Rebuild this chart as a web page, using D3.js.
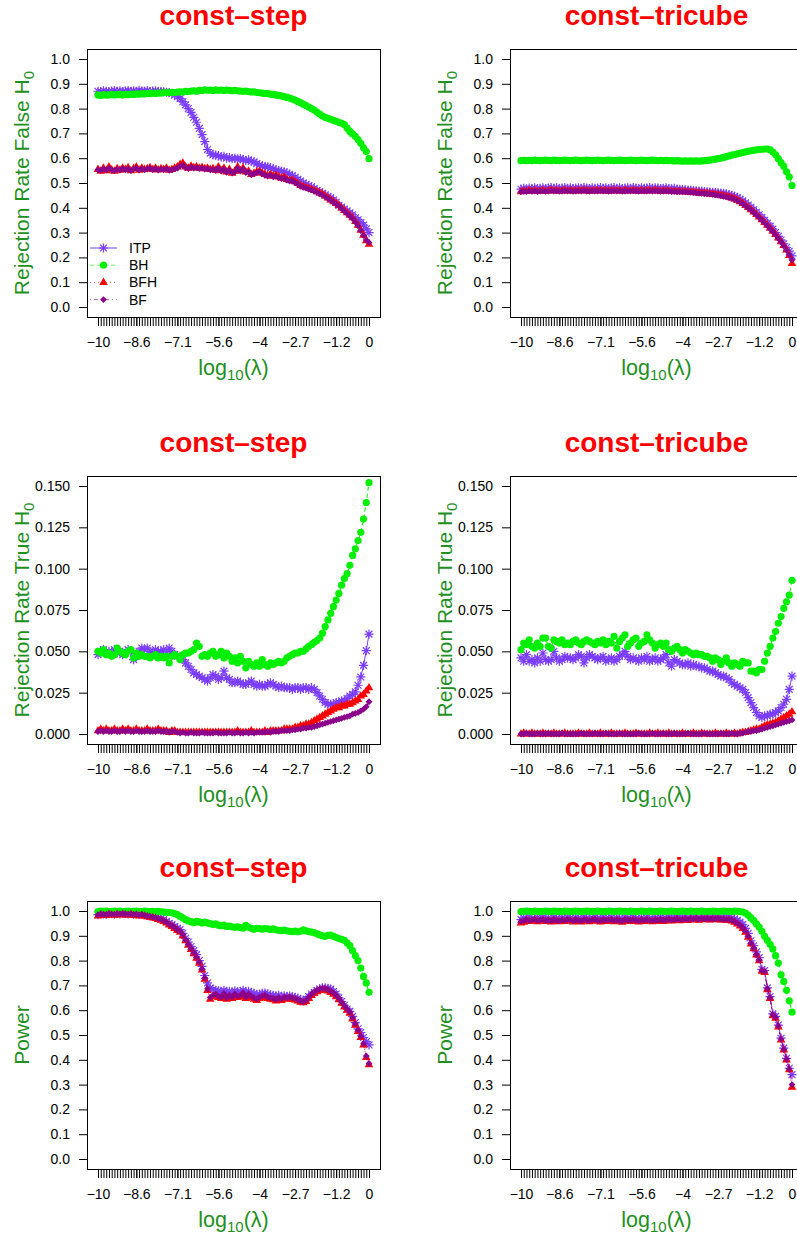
<!DOCTYPE html>
<html>
<head>
<meta charset="utf-8">
<script src="https://cdn.jsdelivr.net/npm/d3@7"></script>
<style>
  body { margin: 0; background: #fff; }
  svg { display: block; font-family: "Liberation Sans", Arial, Helvetica, sans-serif; }
</style>
</head>
<body>
<svg id="chart" width="797" height="1234"></svg>
<script>
// lambda grid: 100 positions, labelled with log10(lambda) at a few of them
const lambdaIdx = d3.range(100);
const xTickIdx = [0, 14, 29, 44, 59, 72, 87, 99];
const xTickLabels = ["\u221210", "\u22128.6", "\u22127.1", "\u22125.6", "\u22124", "\u22122.7", "\u22121.2", "0"];

const methods = ["ITP", "BH", "BFH", "BF"];
const rateTicks = [0, 0.1, 0.2, 0.3, 0.4, 0.5, 0.6, 0.7, 0.8, 0.9, 1.0];
const trueTicks = [0, 0.025, 0.05, 0.075, 0.1, 0.125, 0.15];

// ---- Rejection rate, false H0 ----
const stepFalseITP = [
  0.870,0.868,0.872,0.870,0.869,0.871,0.873,0.870,0.872,0.868,
  0.871,0.873,0.870,0.872,0.869,0.874,0.871,0.870,0.873,0.868,
  0.871,0.872,0.870,0.869,0.868,0.866,0.865,0.860,0.855,0.848,
  0.840,0.828,0.815,0.800,0.785,0.765,0.745,0.720,0.695,0.667,
  0.635,0.620,0.613,0.612,0.610,0.605,0.607,0.600,0.602,0.598,
  0.600,0.596,0.598,0.594,0.590,0.593,0.588,0.585,0.578,0.573,
  0.568,0.566,0.565,0.560,0.557,0.552,0.550,0.547,0.545,0.540,
  0.535,0.530,0.523,0.515,0.508,0.500,0.495,0.490,0.485,0.478,
  0.470,0.465,0.458,0.452,0.446,0.440,0.432,0.422,0.410,0.403,
  0.395,0.388,0.380,0.372,0.360,0.352,0.340,0.330,0.315,0.300];
const stepFalseBH = [
  0.855,0.853,0.856,0.854,0.855,0.857,0.855,0.856,0.858,0.855,
  0.857,0.856,0.858,0.857,0.859,0.858,0.860,0.859,0.861,0.860,
  0.862,0.861,0.863,0.862,0.864,0.865,0.864,0.866,0.865,0.867,
  0.868,0.867,0.870,0.869,0.871,0.872,0.870,0.874,0.873,0.876,
  0.874,0.875,0.873,0.876,0.874,0.875,0.873,0.875,0.874,0.872,
  0.874,0.872,0.871,0.870,0.871,0.869,0.867,0.868,0.865,0.864,
  0.862,0.861,0.860,0.858,0.857,0.855,0.853,0.851,0.848,0.845,
  0.842,0.838,0.834,0.829,0.824,0.818,0.812,0.806,0.800,0.794,
  0.786,0.778,0.770,0.765,0.761,0.757,0.753,0.749,0.745,0.741,
  0.735,0.722,0.708,0.698,0.688,0.675,0.660,0.642,0.627,0.598];
const stepFalseBFH = [
  0.555,0.548,0.560,0.550,0.565,0.553,0.548,0.558,0.552,0.560,
  0.555,0.562,0.550,0.558,0.565,0.552,0.560,0.555,0.558,0.562,
  0.555,0.560,0.553,0.558,0.555,0.560,0.552,0.555,0.560,0.565,
  0.575,0.580,0.565,0.560,0.568,0.562,0.565,0.560,0.563,0.558,
  0.560,0.555,0.558,0.552,0.565,0.550,0.560,0.545,0.555,0.540,
  0.548,0.565,0.550,0.560,0.545,0.548,0.535,0.540,0.545,0.548,
  0.540,0.535,0.530,0.535,0.528,0.532,0.525,0.520,0.525,0.515,
  0.510,0.512,0.505,0.498,0.490,0.485,0.482,0.478,0.475,0.470,
  0.465,0.460,0.455,0.448,0.440,0.432,0.425,0.418,0.410,0.400,
  0.390,0.380,0.370,0.360,0.345,0.330,0.310,0.290,0.268,0.253];
const stepFalseBF = [
  0.553,0.550,0.557,0.552,0.560,0.552,0.550,0.556,0.552,0.558,
  0.553,0.558,0.550,0.556,0.560,0.552,0.558,0.553,0.556,0.560,
  0.553,0.557,0.552,0.556,0.553,0.557,0.551,0.553,0.557,0.560,
  0.568,0.572,0.562,0.558,0.564,0.560,0.562,0.558,0.560,0.556,
  0.557,0.553,0.555,0.550,0.560,0.548,0.556,0.543,0.552,0.540,
  0.545,0.560,0.548,0.556,0.542,0.545,0.533,0.538,0.542,0.545,
  0.537,0.532,0.528,0.532,0.525,0.528,0.522,0.518,0.520,0.512,
  0.508,0.508,0.502,0.495,0.487,0.482,0.479,0.475,0.472,0.467,
  0.462,0.457,0.452,0.445,0.437,0.430,0.422,0.415,0.407,0.397,
  0.387,0.377,0.367,0.356,0.342,0.327,0.308,0.288,0.270,0.260];

const tricubeFalseITP = [
  0.475,0.478,0.476,0.479,0.477,0.480,0.477,0.478,0.480,0.477,
  0.479,0.481,0.478,0.480,0.477,0.479,0.481,0.478,0.480,0.477,
  0.479,0.480,0.478,0.481,0.479,0.477,0.480,0.478,0.479,0.481,
  0.478,0.480,0.477,0.479,0.481,0.478,0.480,0.477,0.479,0.480,
  0.478,0.481,0.479,0.477,0.480,0.478,0.479,0.481,0.478,0.480,
  0.479,0.477,0.478,0.480,0.477,0.476,0.478,0.475,0.474,0.473,
  0.472,0.471,0.470,0.469,0.468,0.467,0.466,0.465,0.464,0.463,
  0.462,0.461,0.460,0.459,0.458,0.456,0.453,0.450,0.446,0.441,
  0.435,0.428,0.420,0.411,0.402,0.392,0.382,0.372,0.361,0.350,
  0.338,0.326,0.314,0.300,0.285,0.270,0.255,0.240,0.225,0.206];
const tricubeFalseBH = [
  0.590,0.591,0.590,0.591,0.590,0.592,0.591,0.590,0.591,0.592,
  0.591,0.590,0.592,0.591,0.590,0.591,0.592,0.591,0.590,0.591,
  0.592,0.591,0.590,0.591,0.592,0.591,0.590,0.591,0.592,0.591,
  0.590,0.591,0.592,0.591,0.590,0.591,0.592,0.591,0.590,0.591,
  0.592,0.591,0.590,0.591,0.592,0.591,0.590,0.591,0.592,0.591,
  0.590,0.591,0.590,0.591,0.590,0.590,0.589,0.590,0.589,0.588,
  0.589,0.588,0.589,0.588,0.589,0.588,0.589,0.590,0.591,0.592,
  0.594,0.596,0.598,0.600,0.603,0.606,0.609,0.612,0.615,0.618,
  0.620,0.623,0.626,0.628,0.630,0.632,0.634,0.635,0.636,0.637,
  0.637,0.634,0.625,0.614,0.598,0.582,0.567,0.545,0.525,0.490];
const tricubeFalseBFH = [
  0.465,0.468,0.466,0.470,0.467,0.469,0.466,0.468,0.470,0.467,
  0.469,0.471,0.468,0.470,0.467,0.469,0.470,0.468,0.470,0.467,
  0.469,0.470,0.468,0.471,0.469,0.467,0.470,0.468,0.469,0.470,
  0.468,0.470,0.467,0.469,0.470,0.468,0.470,0.467,0.469,0.470,
  0.468,0.470,0.469,0.467,0.470,0.468,0.469,0.470,0.468,0.470,
  0.469,0.467,0.468,0.469,0.467,0.466,0.467,0.465,0.466,0.465,
  0.465,0.464,0.463,0.462,0.461,0.460,0.459,0.458,0.457,0.456,
  0.455,0.454,0.452,0.450,0.448,0.446,0.443,0.440,0.436,0.431,
  0.425,0.418,0.410,0.402,0.393,0.383,0.373,0.363,0.352,0.341,
  0.330,0.318,0.306,0.293,0.279,0.264,0.248,0.230,0.208,0.176];
const tricubeFalseBF = [
  0.464,0.466,0.465,0.468,0.466,0.467,0.465,0.467,0.468,0.466,
  0.467,0.469,0.467,0.468,0.466,0.467,0.468,0.467,0.468,0.466,
  0.467,0.468,0.467,0.469,0.467,0.466,0.468,0.467,0.467,0.468,
  0.467,0.468,0.466,0.467,0.468,0.467,0.468,0.466,0.467,0.468,
  0.467,0.468,0.467,0.466,0.468,0.467,0.467,0.468,0.467,0.468,
  0.467,0.466,0.467,0.467,0.466,0.465,0.466,0.464,0.465,0.464,
  0.464,0.463,0.462,0.461,0.460,0.459,0.458,0.457,0.456,0.455,
  0.454,0.452,0.450,0.448,0.446,0.444,0.441,0.438,0.434,0.429,
  0.423,0.416,0.408,0.400,0.391,0.381,0.371,0.361,0.350,0.339,
  0.328,0.316,0.304,0.291,0.277,0.262,0.246,0.229,0.210,0.190];

// ---- Rejection rate, true H0 ----
const stepTrueITP = [
  0.048,0.050,0.051,0.049,0.050,0.048,0.051,0.049,0.050,0.048,
  0.049,0.051,0.050,0.045,0.047,0.050,0.052,0.051,0.052,0.050,
  0.049,0.051,0.050,0.050,0.051,0.049,0.052,0.050,0.048,0.047,
  0.047,0.045,0.043,0.041,0.039,0.037,0.036,0.035,0.034,0.033,
  0.032,0.034,0.036,0.035,0.033,0.034,0.038,0.034,0.033,0.031,
  0.031,0.032,0.031,0.030,0.030,0.031,0.032,0.030,0.029,0.030,
  0.029,0.029,0.030,0.031,0.030,0.029,0.028,0.029,0.028,0.028,
  0.028,0.027,0.028,0.028,0.027,0.028,0.028,0.027,0.028,0.027,
  0.025,0.023,0.021,0.019,0.018,0.018,0.018,0.019,0.019,0.020,
  0.020,0.0215,0.023,0.024,0.0255,0.0295,0.0345,0.0415,0.0504,0.0604];
const stepTrueBH = [
  0.050,0.049,0.051,0.048,0.049,0.047,0.048,0.052,0.050,0.049,
  0.048,0.050,0.051,0.046,0.049,0.047,0.048,0.047,0.047,0.046,
  0.047,0.048,0.046,0.047,0.046,0.047,0.043,0.047,0.048,0.047,
  0.045,0.048,0.049,0.049,0.050,0.051,0.055,0.053,0.047,0.048,
  0.047,0.049,0.050,0.047,0.048,0.050,0.046,0.049,0.047,0.044,
  0.046,0.043,0.047,0.044,0.040,0.044,0.042,0.041,0.043,0.041,
  0.045,0.042,0.041,0.043,0.042,0.043,0.044,0.043,0.044,0.046,
  0.047,0.048,0.049,0.049,0.050,0.050,0.0515,0.053,0.054,0.0555,
  0.0565,0.058,0.061,0.065,0.069,0.073,0.077,0.081,0.085,0.090,
  0.094,0.097,0.102,0.108,0.112,0.117,0.122,0.130,0.140,0.152];
const stepTrueBFH = [
  0.002,0.003,0.002,0.003,0.002,0.002,0.003,0.002,0.002,0.003,
  0.002,0.003,0.002,0.002,0.003,0.002,0.002,0.002,0.003,0.002,
  0.002,0.002,0.003,0.002,0.002,0.002,0.001,0.002,0.002,0.001,
  0.001,0.001,0.001,0.001,0.001,0.001,0.001,0.001,0.001,0.001,
  0.001,0.001,0.001,0.001,0.001,0.001,0.001,0.001,0.001,0.001,
  0.001,0.002,0.001,0.001,0.001,0.001,0.002,0.001,0.001,0.001,
  0.001,0.002,0.001,0.002,0.002,0.002,0.002,0.002,0.003,0.003,
  0.003,0.003,0.004,0.004,0.005,0.005,0.006,0.006,0.007,0.008,
  0.009,0.010,0.011,0.012,0.013,0.014,0.015,0.016,0.016,0.017,
  0.017,0.018,0.018,0.019,0.020,0.021,0.023,0.024,0.026,0.028];
const stepTrueBF = [
  0.0015,0.002,0.0015,0.002,0.0015,0.0015,0.002,0.0015,0.0015,0.002,
  0.0015,0.002,0.0015,0.0015,0.002,0.0015,0.0015,0.0015,0.002,0.0015,
  0.0015,0.0015,0.002,0.0015,0.0015,0.0015,0.001,0.0015,0.0015,0.001,
  0.0005,0.001,0.0005,0.0005,0.001,0.0005,0.0005,0.0005,0.001,0.0005,
  0.0005,0.0005,0.0005,0.001,0.0005,0.0005,0.0005,0.0005,0.001,0.0005,
  0.0005,0.001,0.0005,0.0005,0.001,0.0005,0.001,0.0005,0.001,0.001,
  0.001,0.001,0.0015,0.001,0.0015,0.0015,0.0015,0.002,0.002,0.002,
  0.002,0.0025,0.0025,0.003,0.003,0.0035,0.0035,0.004,0.004,0.0045,
  0.005,0.0055,0.006,0.0065,0.007,0.0075,0.008,0.0085,0.009,0.0095,
  0.010,0.0105,0.011,0.012,0.0125,0.013,0.014,0.015,0.0165,0.0195];

const tricubeTrueITP = [
  0.046,0.044,0.048,0.044,0.045,0.043,0.046,0.044,0.049,0.045,
  0.044,0.045,0.050,0.046,0.044,0.045,0.047,0.046,0.046,0.045,
  0.046,0.048,0.047,0.043,0.046,0.048,0.047,0.046,0.045,0.046,
  0.047,0.044,0.045,0.046,0.044,0.045,0.047,0.048,0.050,0.047,
  0.045,0.046,0.045,0.044,0.046,0.045,0.047,0.044,0.045,0.046,
  0.044,0.045,0.046,0.048,0.043,0.041,0.045,0.044,0.043,0.042,
  0.042,0.043,0.041,0.042,0.041,0.041,0.040,0.040,0.039,0.038,
  0.038,0.037,0.036,0.035,0.035,0.034,0.033,0.031,0.030,0.029,
  0.028,0.027,0.025,0.022,0.019,0.016,0.013,0.011,0.010,0.011,
  0.011,0.012,0.012,0.013,0.014,0.016,0.018,0.021,0.027,0.035];
const tricubeTrueBH = [
  0.051,0.055,0.054,0.057,0.053,0.052,0.055,0.053,0.058,0.058,
  0.053,0.052,0.057,0.056,0.055,0.057,0.054,0.055,0.054,0.056,
  0.057,0.055,0.054,0.056,0.057,0.056,0.055,0.054,0.056,0.055,
  0.057,0.054,0.056,0.055,0.059,0.052,0.056,0.058,0.060,0.053,
  0.055,0.057,0.058,0.053,0.055,0.056,0.060,0.057,0.055,0.052,
  0.054,0.055,0.053,0.055,0.051,0.050,0.052,0.053,0.051,0.049,
  0.051,0.050,0.049,0.048,0.049,0.048,0.048,0.047,0.047,0.046,
  0.044,0.046,0.045,0.042,0.044,0.046,0.043,0.041,0.043,0.042,
  0.041,0.044,0.043,0.043,0.038,0.038,0.037,0.039,0.039,0.044,
  0.049,0.053,0.058,0.062,0.067,0.071,0.076,0.080,0.084,0.093];
const tricubeTrueBFH = [
  0,0.0005,0,0,0.0005,0,0,0,0.0005,0,
  0,0,0.0005,0,0,0,0.0005,0,0,0,
  0,0.0005,0,0,0,0.0005,0,0,0,0.0005,
  0,0,0,0.0005,0,0,0,0,0.0005,0,
  0,0,0.0005,0,0,0,0,0.0005,0,0,
  0.0005,0,0,0,0.0005,0,0,0,0,0.0005,
  0,0,0,0.0005,0,0,0.0005,0,0,0,
  0,0.0005,0,0,0,0.0005,0,0,0.0005,0,
  0.0005,0.001,0.001,0.0015,0.002,0.0025,0.003,0.003,0.004,0.005,
  0.0055,0.006,0.0065,0.007,0.008,0.009,0.010,0.011,0.012,0.0135];
const tricubeTrueBF = [
  0,0,0.0005,0,0,0,0.0005,0,0,0,
  0.0005,0,0,0,0,0.0005,0,0,0,0,
  0,0,0.0005,0,0,0,0,0.0005,0,0,
  0,0.0005,0,0,0,0,0.0005,0,0,0,
  0,0,0,0.0005,0,0,0,0,0.0005,0,
  0,0,0.0005,0,0,0,0.0005,0,0,0,
  0,0.0005,0,0,0,0,0,0.0005,0,0,
  0,0,0,0.0005,0,0,0,0.0005,0,0,
  0.0005,0.0005,0.001,0.0015,0.0015,0.002,0.002,0.0025,0.003,0.0035,
  0.004,0.0045,0.005,0.0055,0.006,0.0065,0.007,0.0075,0.008,0.0085];

// ---- Power ----
const stepPowerITP = [
  0.985,0.990,0.988,0.986,0.990,0.989,0.987,0.990,0.988,0.991,
  0.990,0.988,0.990,0.987,0.989,0.986,0.988,0.985,0.982,0.980,
  0.978,0.975,0.972,0.970,0.965,0.958,0.950,0.945,0.938,0.930,
  0.925,0.910,0.890,0.875,0.857,0.840,0.824,0.800,0.777,0.740,
  0.710,0.690,0.683,0.680,0.678,0.675,0.680,0.672,0.676,0.670,
  0.678,0.672,0.675,0.680,0.672,0.676,0.670,0.668,0.662,0.664,
  0.668,0.669,0.665,0.662,0.660,0.657,0.660,0.655,0.658,0.656,
  0.657,0.655,0.652,0.648,0.642,0.638,0.645,0.655,0.665,0.672,
  0.680,0.685,0.690,0.690,0.688,0.685,0.675,0.665,0.650,0.635,
  0.620,0.605,0.595,0.575,0.550,0.525,0.510,0.490,0.473,0.460];
const stepPowerBH = [
  0.998,1.000,0.999,1.000,0.998,0.999,1.000,0.999,1.000,0.998,
  0.999,1.000,0.998,0.999,1.000,0.999,0.998,1.000,0.999,0.998,
  0.999,0.998,0.999,0.997,0.996,0.995,0.994,0.993,0.990,0.985,
  0.978,0.972,0.965,0.960,0.957,0.953,0.958,0.956,0.952,0.955,
  0.952,0.949,0.946,0.948,0.943,0.941,0.943,0.938,0.939,0.936,
  0.934,0.936,0.933,0.931,0.942,0.934,0.930,0.926,0.930,0.929,
  0.927,0.929,0.928,0.925,0.928,0.924,0.922,0.921,0.923,0.920,
  0.918,0.917,0.919,0.916,0.918,0.924,0.920,0.917,0.915,0.913,
  0.908,0.904,0.900,0.898,0.902,0.903,0.898,0.893,0.889,0.886,
  0.882,0.872,0.860,0.840,0.820,0.800,0.770,0.736,0.710,0.672];
const stepPowerBFH = [
  0.980,0.985,0.983,0.982,0.986,0.984,0.983,0.986,0.984,0.987,
  0.985,0.983,0.986,0.982,0.984,0.980,0.983,0.980,0.977,0.975,
  0.973,0.970,0.966,0.963,0.958,0.952,0.944,0.938,0.930,0.922,
  0.915,0.900,0.880,0.862,0.845,0.828,0.810,0.790,0.762,0.725,
  0.680,0.645,0.655,0.660,0.652,0.648,0.662,0.645,0.655,0.648,
  0.660,0.652,0.655,0.665,0.648,0.660,0.652,0.645,0.640,0.648,
  0.652,0.655,0.648,0.645,0.643,0.638,0.645,0.640,0.647,0.645,
  0.648,0.645,0.642,0.638,0.632,0.630,0.635,0.648,0.660,0.668,
  0.675,0.680,0.683,0.682,0.678,0.672,0.665,0.655,0.643,0.628,
  0.613,0.600,0.588,0.565,0.540,0.515,0.490,0.460,0.410,0.380];
const stepPowerBF = [
  0.984,0.988,0.986,0.985,0.989,0.987,0.986,0.989,0.987,0.990,
  0.988,0.986,0.989,0.985,0.987,0.983,0.986,0.983,0.980,0.978,
  0.976,0.973,0.969,0.966,0.961,0.955,0.947,0.941,0.933,0.925,
  0.918,0.904,0.884,0.866,0.849,0.832,0.814,0.794,0.766,0.730,
  0.686,0.652,0.660,0.665,0.657,0.653,0.667,0.650,0.660,0.653,
  0.665,0.657,0.660,0.670,0.653,0.665,0.657,0.650,0.645,0.653,
  0.657,0.660,0.653,0.650,0.648,0.643,0.650,0.645,0.652,0.650,
  0.653,0.650,0.647,0.643,0.637,0.635,0.640,0.653,0.665,0.673,
  0.680,0.685,0.688,0.687,0.683,0.677,0.670,0.660,0.648,0.633,
  0.618,0.605,0.593,0.570,0.545,0.520,0.495,0.465,0.415,0.385];

const tricubePowerITP = [
  0.965,0.972,0.968,0.975,0.970,0.966,0.973,0.970,0.974,0.968,
  0.971,0.967,0.974,0.970,0.966,0.972,0.969,0.975,0.971,0.967,
  0.973,0.970,0.968,0.974,0.971,0.967,0.972,0.975,0.970,0.968,
  0.973,0.969,0.971,0.974,0.968,0.972,0.970,0.966,0.973,0.971,
  0.969,0.974,0.970,0.967,0.972,0.969,0.973,0.970,0.968,0.972,
  0.970,0.974,0.969,0.972,0.975,0.971,0.973,0.976,0.972,0.974,
  0.976,0.973,0.977,0.975,0.978,0.974,0.977,0.976,0.978,0.975,
  0.977,0.976,0.978,0.975,0.976,0.974,0.975,0.972,0.968,0.962,
  0.955,0.945,0.930,0.910,0.880,0.860,0.835,0.812,0.765,0.760,
  0.690,0.655,0.585,0.575,0.540,0.487,0.447,0.406,0.366,0.340];
const tricubePowerBH = [
  0.998,0.999,1.000,0.999,0.998,1.000,0.999,0.998,0.999,1.000,
  0.999,0.998,1.000,0.999,0.999,0.998,1.000,0.999,0.998,0.999,
  1.000,0.999,0.998,0.999,1.000,0.999,0.999,0.998,1.000,0.999,
  0.998,0.999,1.000,0.999,0.998,0.999,1.000,0.999,0.999,0.998,
  1.000,0.999,0.998,0.999,1.000,0.999,0.998,1.000,0.999,0.998,
  0.999,1.000,0.999,0.998,0.999,1.000,0.999,0.998,0.999,1.000,
  0.999,0.998,1.000,0.999,0.999,0.998,1.000,0.999,0.998,0.999,
  1.000,0.999,0.998,0.999,1.000,0.999,0.999,0.998,1.000,0.999,
  0.998,0.996,0.992,0.983,0.972,0.962,0.948,0.935,0.918,0.898,
  0.882,0.866,0.847,0.820,0.790,0.743,0.716,0.680,0.638,0.592];
const tricubePowerBFH = [
  0.952,0.955,0.962,0.958,0.960,0.963,0.957,0.960,0.962,0.958,
  0.960,0.956,0.962,0.959,0.957,0.961,0.958,0.963,0.960,0.956,
  0.961,0.958,0.956,0.962,0.960,0.957,0.961,0.963,0.959,0.956,
  0.962,0.958,0.960,0.963,0.957,0.961,0.959,0.955,0.962,0.960,
  0.958,0.962,0.959,0.956,0.961,0.958,0.962,0.960,0.957,0.961,
  0.959,0.963,0.958,0.961,0.964,0.960,0.962,0.965,0.961,0.963,
  0.965,0.962,0.966,0.964,0.967,0.963,0.966,0.965,0.967,0.964,
  0.966,0.965,0.967,0.964,0.965,0.962,0.963,0.960,0.955,0.948,
  0.940,0.930,0.915,0.895,0.867,0.848,0.823,0.800,0.757,0.752,
  0.683,0.648,0.578,0.568,0.533,0.480,0.440,0.400,0.360,0.290];
const tricubePowerBF = [
  0.958,0.960,0.965,0.962,0.963,0.966,0.961,0.963,0.965,0.962,
  0.963,0.960,0.965,0.962,0.960,0.964,0.962,0.966,0.963,0.960,
  0.964,0.962,0.960,0.965,0.963,0.961,0.964,0.966,0.962,0.960,
  0.965,0.962,0.963,0.966,0.961,0.964,0.962,0.959,0.965,0.963,
  0.962,0.965,0.962,0.960,0.964,0.962,0.965,0.963,0.961,0.964,
  0.962,0.966,0.962,0.964,0.967,0.963,0.965,0.968,0.964,0.966,
  0.968,0.965,0.969,0.967,0.970,0.966,0.969,0.968,0.970,0.967,
  0.969,0.968,0.970,0.967,0.968,0.965,0.966,0.963,0.958,0.951,
  0.943,0.933,0.918,0.898,0.870,0.851,0.826,0.803,0.760,0.755,
  0.686,0.651,0.581,0.571,0.536,0.483,0.443,0.403,0.363,0.300];

const colors = { ITP: "#7a3cff", BH: "#00ee00", BFH: "#ff0000", BF: "#8b008b" };
const dashes = { ITP: null, BH: "4,3", BFH: "1,3", BF: "1,3,4,3" };
const titleRed = "#ff0000";
const labelGreen = "#1f8f1f";

const panels = [
  { title: "const\u2013step", ylab: "false", row: 0, col: 0, ymax: 1, ticks: rateTicks, fmt: ".1f",
    series: [stepFalseITP, stepFalseBH, stepFalseBFH, stepFalseBF], legend: true },
  { title: "const\u2013tricube", ylab: "false", row: 0, col: 1, ymax: 1, ticks: rateTicks, fmt: ".1f",
    series: [tricubeFalseITP, tricubeFalseBH, tricubeFalseBFH, tricubeFalseBF] },
  { title: "const\u2013step", ylab: "true", row: 1, col: 0, ymax: 0.15, ticks: trueTicks, fmt: ".3f",
    series: [stepTrueITP, stepTrueBH, stepTrueBFH, stepTrueBF] },
  { title: "const\u2013tricube", ylab: "true", row: 1, col: 1, ymax: 0.15, ticks: trueTicks, fmt: ".3f",
    series: [tricubeTrueITP, tricubeTrueBH, tricubeTrueBFH, tricubeTrueBF] },
  { title: "const\u2013step", ylab: "power", row: 2, col: 0, ymax: 1, ticks: rateTicks, fmt: ".1f",
    series: [stepPowerITP, stepPowerBH, stepPowerBFH, stepPowerBF] },
  { title: "const\u2013tricube", ylab: "power", row: 2, col: 1, ymax: 1, ticks: rateTicks, fmt: ".1f",
    series: [tricubePowerITP, tricubePowerBH, tricubePowerBFH, tricubePowerBF] }
];

const svg = d3.select("#chart");
const W = 293, H = 268;
const colLeft = [87, 510];
const rowTop = [49, 476, 901];

function marker(sel, m) {
  if (m === "ITP") {
    sel.append("path")
      .attr("d", "M-4.6,0H4.6M0,-4.6V4.6M-3.4,-3.4L3.4,3.4M-3.4,3.4L3.4,-3.4")
      .attr("stroke", colors.ITP).attr("stroke-width", 1.2).attr("fill", "none");
  } else if (m === "BH") {
    sel.append("circle").attr("r", 3.6).attr("fill", colors.BH);
  } else if (m === "BFH") {
    sel.append("path").attr("d", "M0,-4.8L4.3,2.6L-4.3,2.6Z").attr("fill", colors.BFH);
  } else {
    sel.append("path").attr("d", "M0,-3.4L3.4,0L0,3.4L-3.4,0Z").attr("fill", colors.BF);
  }
}

panels.forEach(p => {
  const g = svg.append("g")
    .attr("transform", `translate(${colLeft[p.col]},${rowTop[p.row]})`);

  const x = d3.scaleLinear().domain([0, 99]).range([11, 282]);
  const y = d3.scaleLinear().domain([0, p.ymax]).range([258, 10]);

  // title
  g.append("text")
    .attr("x", W / 2).attr("y", -24)
    .attr("text-anchor", "middle")
    .attr("font-size", 28).attr("font-weight", "bold")
    .attr("fill", titleRed)
    .text(p.title);

  // y axis
  const yAxis = g.append("g")
    .call(d3.axisLeft(y).tickValues(p.ticks).tickFormat(d3.format(p.fmt)).tickSize(8).tickPadding(9));
  yAxis.select(".domain").remove();
  yAxis.selectAll("text").attr("font-size", 14).attr("fill", "#000")
    .attr("font-family", "'Liberation Sans', Arial, sans-serif");

  // x axis: a tick at every lambda, labels at a few
  const xMinor = g.append("g").attr("transform", `translate(0,${H})`)
    .call(d3.axisBottom(x).tickValues(lambdaIdx).tickFormat("").tickSize(9));
  xMinor.select(".domain").remove();
  const xLab = g.append("g").attr("transform", `translate(0,${H})`)
    .call(d3.axisBottom(x).tickValues(xTickIdx)
      .tickFormat((d, i) => xTickLabels[i]).tickSize(9).tickPadding(11));
  xLab.select(".domain").remove();
  xLab.selectAll("text").attr("font-size", 14).attr("fill", "#000")
    .attr("font-family", "'Liberation Sans', Arial, sans-serif");

  // axis titles
  const xt = g.append("text")
    .attr("x", W / 2).attr("y", H + 58)
    .attr("text-anchor", "middle").attr("font-size", 21.5).attr("fill", labelGreen);
  xt.append("tspan").text("log");
  xt.append("tspan").attr("font-size", 15).attr("dy", 5).text("10");
  xt.append("tspan").attr("dy", -5).text("(\u03bb)");

  const yt = g.append("text")
    .attr("transform", `translate(-58,${H / 2}) rotate(-90)`)
    .attr("text-anchor", "middle").attr("font-size", 21).attr("fill", labelGreen);
  if (p.ylab === "power") {
    yt.text("Power");
  } else {
    yt.append("tspan").text(p.ylab === "false" ? "Rejection Rate False H" : "Rejection Rate True H");
    yt.append("tspan").attr("font-size", 15).attr("dy", 5).text("0");
  }

  // series: line + points, in drawing order
  methods.forEach((m, k) => {
    const vals = p.series[k];
    g.append("path")
      .datum(vals)
      .attr("fill", "none")
      .attr("stroke", colors[m])
      .attr("stroke-width", 1)
      .attr("stroke-dasharray", dashes[m])
      .attr("d", d3.line().x((d, i) => x(i)).y(d => y(d)));
    g.append("g").selectAll("g")
      .data(vals)
      .join("g")
      .attr("transform", (d, i) => `translate(${x(i)},${y(d)})`)
      .each(function () { marker(d3.select(this), m); });
  });

  // frame
  g.append("rect")
    .attr("x", 0.5).attr("y", 0.5).attr("width", W).attr("height", H)
    .attr("fill", "none").attr("stroke", "#000").attr("stroke-width", 1);

  if (p.legend) {
    const lg = g.append("g").attr("transform", "translate(0,199)");
    methods.forEach((m, k) => {
      const row = lg.append("g").attr("transform", `translate(0,${k * 17.2})`);
      row.append("line")
        .attr("x1", 3).attr("x2", 30).attr("y1", 0).attr("y2", 0)
        .attr("stroke", colors[m]).attr("stroke-width", 1)
        .attr("stroke-opacity", m === "ITP" ? 1 : 0.6)
        .attr("stroke-dasharray", dashes[m]);
      const mk = row.append("g").attr("transform", "translate(16.5,0)");
      marker(mk, m);
      row.append("text")
        .attr("x", 42).attr("y", 5)
        .attr("font-size", 14).attr("fill", "#000")
        .text(m);
    });
  }
});
</script>
</body>
</html>
